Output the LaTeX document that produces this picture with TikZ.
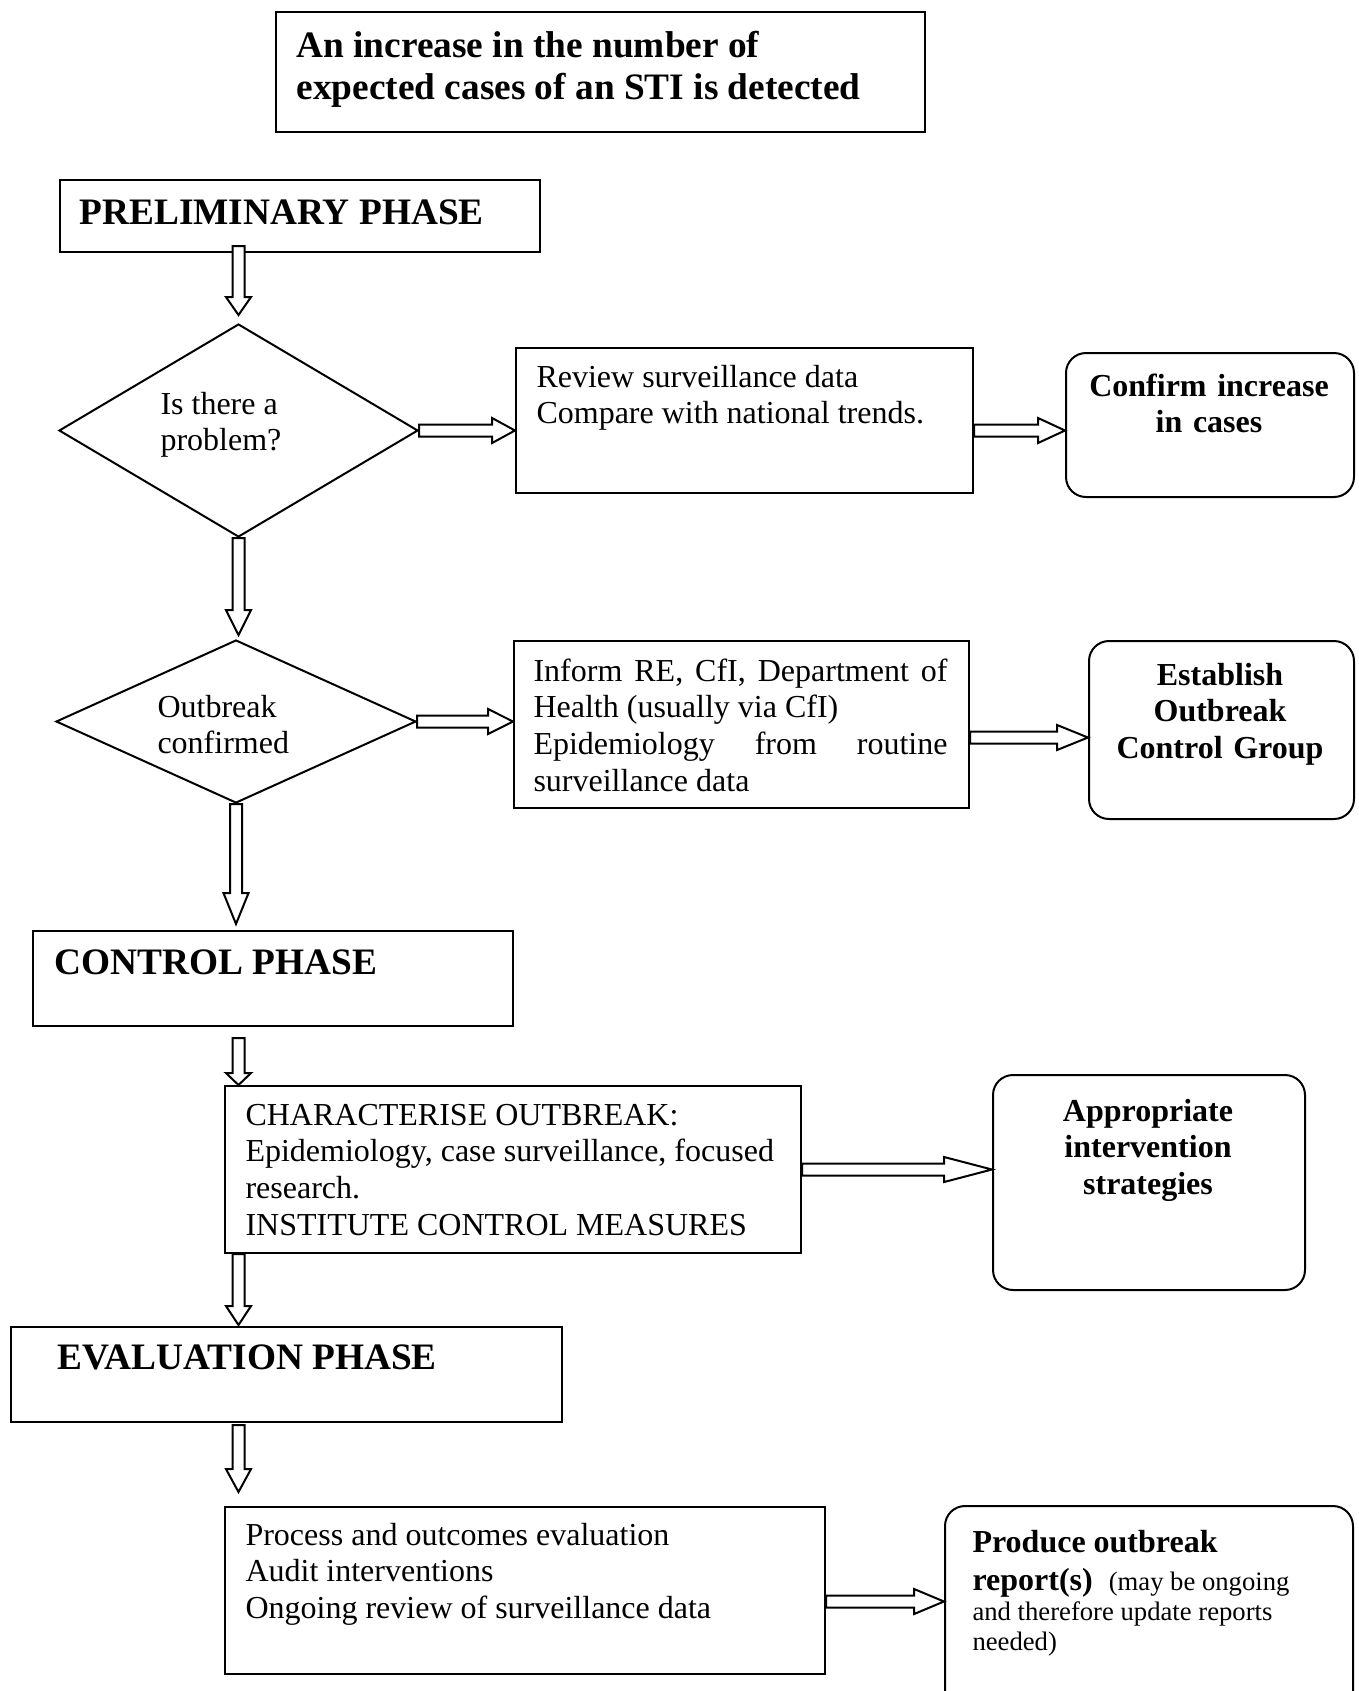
\documentclass[tikz,border=0pt]{standalone}
\usepackage{fontspec}
\setmainfont{Liberation Serif}
\usetikzlibrary{shapes.geometric,calc}
\begin{document}
\begin{tikzpicture}[x=0.375pt,y=-0.375pt,
  box/.style 2 args={draw, line width=0.75pt, anchor=north west, inner sep=0pt,
    minimum width=#1*0.375pt, minimum height=#2*0.375pt},
  rbox/.style 2 args={box={#1}{#2}, rounded corners=7.5pt},
  dia/.style 2 args={draw, line width=0.75pt, shape=diamond, inner sep=0pt,
    minimum width=#1*0.375pt, minimum height=#2*0.375pt},
  txt/.style={inner sep=0pt, anchor=base west, align=flush left, text width=#1*0.375pt,
    font=\fontsize{12}{13.8}\selectfont},
  ctxt/.style={inner sep=0pt, anchor=base, align=center, text width=#1*0.375pt,
    font=\fontsize{12}{13.8}\selectfont\bfseries},
  head/.style={inner sep=0pt, anchor=base west, font=\fontsize{14}{16.1}\selectfont\bfseries},
  harrow/.style={line width=0.75pt, fill=white, to path={let \p1=(\tikztostart), \p2=(\tikztotarget) in
    (\x1,\y1+2.25pt) -- (\x2-#1*0.375pt,\y1+2.25pt) -- (\x2-#1*0.375pt,\y1+4.7pt) -- (\x2,\y1)
    -- (\x2-#1*0.375pt,\y1-4.7pt) -- (\x2-#1*0.375pt,\y1-2.25pt) -- (\x1,\y1-2.25pt) -- cycle}},
  varrow/.style={line width=0.75pt, fill=white, to path={let \p1=(\tikztostart), \p2=(\tikztotarget) in
    (\x1-2.25pt,\y1) -- (\x1-2.25pt,\y2+#1*0.375pt) -- (\x1-4.7pt,\y2+#1*0.375pt) -- (\x1,\y2)
    -- (\x1+4.7pt,\y2+#1*0.375pt) -- (\x1+2.25pt,\y2+#1*0.375pt) -- (\x1+2.25pt,\y1) -- cycle}}
]
\useasboundingbox (0,0) rectangle (1359,1691);
\clip (0,0) rectangle (1359,1691);

% boxes
\node[box={649}{120}] (top) at (275,11) {};
\node[box={480}{72}] (prelim) at (59,179) {};
\node[dia={359}{213}] (dia1) at (238.5,430.5) {};
\node[box={457}{145}] (review) at (515,347) {};
\node[rbox={288}{144}] (confirm) at (1065,352) {};
\node[dia={360}{163}] (dia2) at (236,721.5) {};
\node[box={455}{167}] (inform) at (513,640) {};
\node[rbox={265}{178}] (establish) at (1088,640) {};
\node[box={480}{95}] (control) at (32,930) {};
\node[box={576}{167}] (charact) at (224,1085) {};
\node[rbox={312}{215}] (approp) at (992,1074) {};
\node[box={551}{95}] (evalph) at (10,1326) {};
\node[box={600}{167}] (process) at (224,1506) {};
\node[rbox={408}{215}] (produce) at (944,1505) {};

% texts
\node[head, align=flush left, text width=600*0.375pt] (ttop) at (296,57)
  {An increase in the number of\\expected cases of an STI is detected};
\node[head] (tprelim) at (79,224) {PRELIMINARY PHASE};
\node[head] (tcontrol) at (54,974) {CONTROL PHASE};
\node[head] (teval) at (57,1369) {EVALUATION PHASE};
\node[txt=240] (tdia1) at (160,414) {Is there a\\problem?};
\node[txt=240] (tdia2) at (157,717) {Outbreak\\confirmed};
\node[txt=420] (treview) at (536,387) {Review surveillance data\\Compare with national trends.};
\node[txt=414] (tinform) at (533,681)
  {Inform\hfill RE,\hfill CfI,\hfill Department\hfill of\\
   Health (usually via CfI)\\
   Epidemiology\hfill from\hfill routine\\
   surveillance data};
\node[txt=560] (tcharact) at (245,1125)
  {CHARACTERISE OUTBREAK:\\Epidemiology, case surveillance, focused\\research.\\INSTITUTE CONTROL MEASURES};
\node[txt=570] (tprocess) at (245,1545)
  {Process and outcomes evaluation\\Audit interventions\\Ongoing review of surveillance data};
\node[ctxt=280] (tconfirm) at (1209,396) {Confirm increase\\in cases};
\node[ctxt=260, font=\fontsize{12}{13.7}\selectfont\bfseries] (testab) at (1220,685) {Establish\\Outbreak\\Control Group};
\node[ctxt=300] (tapprop) at (1148,1121) {Appropriate\\intervention\\strategies};
\node[txt=380, font=\fontsize{12}{14.25}\selectfont\bfseries] (tprod1) at (972,1552)
  {Produce outbreak\\report(s)\ \ {\mdseries\fontsize{10}{11.25}\selectfont(may be ongoing}};
\node[txt=380, font=\fontsize{10}{11.25}\selectfont] (tprod2) at (972,1620)
  {and therefore update reports\\needed)};

% connectors
\draw[varrow=18] ($(prelim.south -| dia1.north)+(0,-7)$) to ($(dia1.north)+(0,-8)$);
\draw[harrow=23] (dia1.east) to (review.west);
\draw[harrow=27] (review.east |- dia1.east) to (confirm.west);
\draw[varrow=25] (dia1.south) to ($(dia2.north)+(0,-4)$);
\draw[harrow=25] (dia2.east) to (inform.west);
\draw[harrow=31] ($(inform.east)+(0,13)$) to (establish.west);
\draw[varrow=31] (dia2.south) to ($(control.north)+(0,-6)$);
\draw[varrow=12] ($(dia1.south |- control.south)+(0,11)$) to (charact.north);
\draw[harrow=48] (charact.east) to (approp.west);
\draw[varrow=19] (dia1.south |- charact.south) to ($(evalph.north)+(0,-1)$);
\draw[varrow=23] ($(dia1.south |- evalph.south)+(0,2)$) to ($(process.north)+(0,-14)$);
\draw[harrow=30] ($(process.east)+(0,11)$) to (produce.west);
\end{tikzpicture}
\end{document}
